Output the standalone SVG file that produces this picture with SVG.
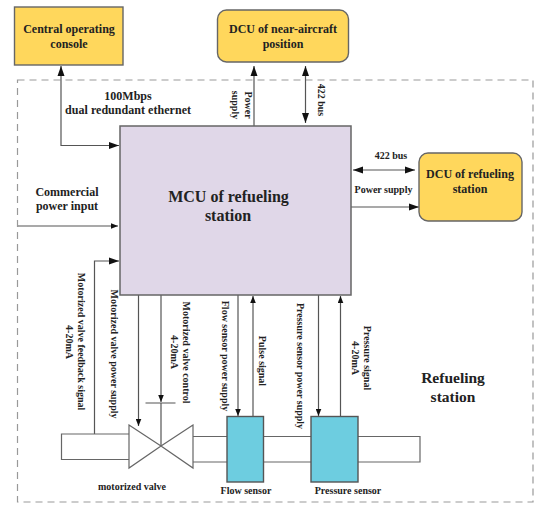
<svg xmlns="http://www.w3.org/2000/svg" width="550" height="513" viewBox="0 0 550 513">
<style>
text{font-family:"Liberation Serif","Times New Roman",serif;font-weight:bold;fill:#222;text-anchor:middle}
.s{font-size:10px}
.m{font-size:12px}
.n{font-size:12px}
.l{font-size:16px}
.r{font-size:15.500px}
.c{fill:none;stroke:#555;stroke-width:1.2}
.y{fill:#ffd75c;stroke:#666;stroke-width:1.4}
.b{fill:#6dcde0;stroke:#555;stroke-width:1.4}
.p{fill:#fff;stroke:#666;stroke-width:1.2}
</style>
<defs>
<marker id="a" markerUnits="userSpaceOnUse" markerWidth="11" markerHeight="8" refX="10" refY="4" orient="auto-start-reverse"><path d="M0 .5L10 4L0 7.500z" fill="#111"/></marker>
<marker id="t" markerUnits="userSpaceOnUse" markerWidth="8" markerHeight="6" refX="7" refY="3" orient="auto-start-reverse"><path d="M0 .2L7 3L0 5.800z" fill="#111"/></marker>
</defs>
<rect width="550" height="513" fill="#fff"/>
<rect id="boundary" x="17.500" y="80" width="515.500" height="422" fill="none" stroke="#999" stroke-width="1.200" stroke-dasharray="7 5"/>
<g id="connectors">
<path class="c" d="M61 66V145.500H119" marker-start="url(#a)" marker-end="url(#a)"/>
<path class="c" d="M254 126V66" marker-end="url(#a)"/>
<path class="c" d="M305.500 66V123" marker-start="url(#a)" marker-end="url(#a)"/>
<path class="c" d="M353 170H415" marker-start="url(#a)" marker-end="url(#a)"/>
<path class="c" d="M351 207H419" marker-end="url(#a)"/>
<path class="c" d="M18 226H118" marker-end="url(#t)"/>
<path class="c" d="M94.500 434V261H119" marker-end="url(#a)"/>
<path class="c" d="M138.500 295V426" marker-end="url(#t)"/>
<path class="c" d="M161 295V402" marker-end="url(#t)"/>
<path class="c" d="M161 403V446M145.500 403H175.500"/>
<path class="c" d="M238 295V416" marker-end="url(#t)"/>
<path class="c" d="M253 416V296" marker-end="url(#t)"/>
<path class="c" d="M318.500 295V416" marker-end="url(#t)"/>
<path class="c" d="M340.500 416V296" marker-end="url(#t)"/>
</g>
<g id="pipe">
<path class="p" d="M129 434H61.500V459.500H129"/>
<path class="p" d="M193 436.500H227M193 462H227M263.500 436.500H311M263.500 462H311"/>
<path class="p" d="M358 436.500H420V462H358"/>
</g>
<g id="central-console"><rect class="y" x="14.500" y="7" width="108.500" height="58"/><text class="n" x="69" y="33">Central operating</text><text class="n" x="69" y="48">console</text></g>
<g id="dcu-near"><rect class="y" x="217.500" y="10" width="131" height="52" rx="9"/><text class="n" x="283" y="33">DCU of near-aircraft</text><text class="n" x="283" y="48">position</text></g>
<g id="mcu"><rect x="120" y="126" width="231" height="169" fill="#e0d7e8" stroke="#666" stroke-width="1.500"/><text class="l" x="228.500" y="202">MCU of refueling</text><text class="l" x="228" y="221">station</text></g>
<g id="dcu-station"><rect class="y" x="419" y="153" width="103" height="68" rx="9"/><text class="n" x="470" y="178">DCU of refueling</text><text class="n" x="470" y="193">station</text></g>
<g id="valve"><path class="p" d="M129 425L161 446L129 468zM193 425L161 446L193 468z"/><text class="s" x="132" y="490">motorized valve</text></g>
<g id="flow-sensor"><rect class="b" x="227" y="416.500" width="36.500" height="65.500"/><text class="s" x="246" y="494">Flow sensor</text></g>
<g id="pressure-sensor"><rect class="b" x="311" y="416.500" width="47" height="65.500"/><text class="s" x="348" y="494">Pressure sensor</text></g>
<g id="labels">
<text class="m" x="128" y="100">100Mbps</text>
<text class="m" x="128" y="114" textLength="126" lengthAdjust="spacing">dual redundant ethernet</text>
<text class="m" x="67" y="196">Commercial</text>
<text class="m" x="67" y="210">power input</text>
<text class="s" x="391" y="159">422 bus</text>
<text class="s" x="383.500" y="193">Power supply</text>
<text class="r" x="453" y="383">Refueling</text>
<text class="r" x="453" y="402">station</text>
<text class="s" transform="translate(245 105) rotate(90)">Power</text>
<text class="s" transform="translate(232 105) rotate(90)">supply</text>
<text class="s" transform="translate(318 100) rotate(90)">422 bus</text>
<text class="s" transform="translate(77.500 341.500) rotate(90)">Motorized valve feedback signal</text>
<text class="s" transform="translate(66 342) rotate(90)">4-20mA</text>
<text class="s" transform="translate(111 354) rotate(90)">Motorized valve power supply</text>
<text class="s" transform="translate(183 352.500) rotate(90)">Motorized valve control</text>
<text class="s" transform="translate(171 352) rotate(90)">4-20mA</text>
<text class="s" transform="translate(222 356) rotate(90)">Flow sensor power supply</text>
<text class="s" transform="translate(259 361) rotate(90)">Pulse signal</text>
<text class="s" transform="translate(297 366) rotate(90)">Pressure sensor power supply</text>
<text class="s" transform="translate(364 358) rotate(90)">Pressure signal</text>
<text class="s" transform="translate(352 358) rotate(90)">4-20mA</text>
</g>
</svg>
